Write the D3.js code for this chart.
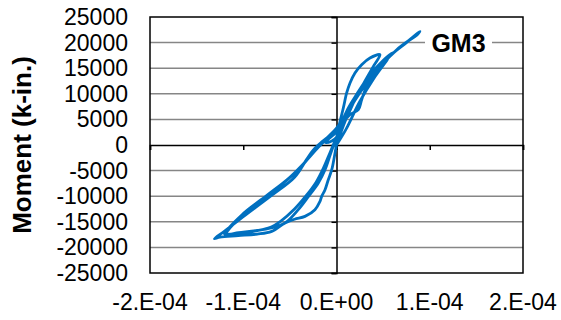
<!DOCTYPE html>
<html><head><meta charset="utf-8">
<script src="https://cdn.jsdelivr.net/npm/d3@7"></script>
<style>html,body{margin:0;padding:0;background:#fff;}svg{display:block;}</style>
</head><body>
<svg id="c" width="561" height="320"></svg>
<script>
// Curvature in units of 1e-4, moment in k-in.
const curvatureE4 = [
  0,0.1,0.2,0.05,-0.12,-0.05,0,
  0.03,0.073,0.109,0.145,0.198,0.270,0.359,0.466,
  0.40,0.30,0.20,0.10,0.0,-0.1,-0.25,-0.4,-0.6,-0.85,-1.05,-1.177,
  -1.05,-0.85,-0.7,-0.552,-0.41,-0.30,-0.195,-0.123,-0.06,0,0.07,0.18,0.3,0.45,0.6,0.75,0.895,
  0.85,0.788,0.646,0.502,0.395,0.324,0.270,0.234,0.15,0.05,-0.05,-0.15,-0.25,-0.32,-0.45,-0.7,-1.0,-1.2,-1.31,
  -1.25,-1.053,-0.85,-0.695,-0.552,-0.45,-0.338,-0.231,-0.177,-0.159,-0.123,-0.088,-0.051,-0.02,0.01,0.05,0.12,0.22,0.35,0.5,0.6,
  0.5,0.35,0.2,0.08,0,-0.15,-0.32,-0.5,-0.75,-1.0,-1.2,
  -1.1,-0.9,-0.7,-0.6,-0.45,-0.33,-0.22,-0.14,-0.07,0,0.08,0.2,0.32,0.45,0.55,
  0.4,0.25,0.1,0
];
const moment = [
  0,5000,9000,3500,500,800,1500,
  4000,7230,10160,12110,14060,15680,16990,17640,
  15500,12300,9000,5800,3300,1300,-1500,-4700,-7900,-11400,-14400,-17380,
  -17100,-16700,-16200,-15230,-12630,-10040,-7420,-4820,-1500,1500,5000,8850,12000,15000,17800,20000,22190,
  21300,20560,18610,16010,13400,11450,8850,6890,6000,4000,2200,700,-1000,-2800,-6300,-9900,-14000,-16800,-18300,
  -18000,-17710,-17400,-16870,-15230,-14500,-13940,-12630,-11010,-10040,-8730,-6780,-4830,-2000,1000,4000,7000,10000,13500,16500,18000,
  16000,13000,8800,5300,3300,500,-3000,-6300,-9900,-13400,-17400,
  -17300,-16900,-16000,-14900,-12500,-10000,-7300,-4500,-1500,1500,5000,8800,12000,14800,16800,
  13000,8500,3000,0
];
const xTicks = [-2e-4,-1e-4,0,1e-4,2e-4];
const xTickLabels = ["-2.E-04","-1.E-04","0.E+00","1.E-04","2.E-04"];
const yTicks = [-25000,-20000,-15000,-10000,-5000,0,5000,10000,15000,20000,25000];
const yTitle = "Moment (k-in.)";
const seriesLabel = "GM3";

const data = curvatureE4.map((c,i)=>({x:c*1e-4, y:moment[i]}));

const svg = d3.select("#c");
const L=150, R=523, T=17, B=273;
const x = d3.scaleLinear().domain([-2e-4,2e-4]).range([L,R]);
const y = d3.scaleLinear().domain([-25000,25000]).range([B,T]);

// gridlines
svg.append("g").selectAll("line").data(yTicks.filter(v=>v!==0 && Math.abs(v)!==25000)).join("line")
  .attr("x1",L).attr("x2",R).attr("y1",d=>y(d)).attr("y2",d=>y(d))
  .attr("stroke","#868686").attr("stroke-width",1.5);

// plot border
svg.append("rect").attr("x",L).attr("y",T).attr("width",R-L).attr("height",B-T)
  .attr("fill","none").attr("stroke","#000").attr("stroke-width",1.5);

// x axis through y=0
const xAxis = d3.axisBottom(x).tickValues(xTicks).tickSize(5).tickFormat("");
const gx = svg.append("g").attr("transform",`translate(0,${y(0)})`).call(xAxis);
gx.select(".domain").attr("stroke","#000").attr("stroke-width",1.5);
gx.selectAll(".tick line").attr("stroke","#000").attr("stroke-width",1.5);

// y axis through x=0
const yAxis = d3.axisLeft(y).tickValues(yTicks).tickSize(5).tickFormat("");
const gy = svg.append("g").attr("transform",`translate(${x(0)},0)`).call(yAxis);
gy.select(".domain").attr("stroke","#000").attr("stroke-width",1.5);
gy.selectAll(".tick line").attr("stroke","#000").attr("stroke-width",1.5);

// tick labels (low position)
svg.append("g").selectAll("text").data(yTicks).join("text")
  .attr("x",128).attr("y",d=>y(d)).attr("dy","0.35em")
  .attr("text-anchor","end").attr("font-family","'Liberation Sans',Arial,sans-serif")
  .attr("font-size",23).attr("fill","#000").text(d=>d);
svg.append("g").selectAll("text").data(xTicks).join("text")
  .attr("x",d=>x(d)).attr("y",310)
  .attr("text-anchor","middle").attr("font-family","'Liberation Sans',Arial,sans-serif")
  .attr("font-size",23).attr("fill","#000").text((d,i)=>xTickLabels[i]);

// y title
svg.append("text").attr("transform",`translate(31,${(T+B)/2}) rotate(-90)`)
  .attr("text-anchor","middle").attr("font-family","'Liberation Sans',Arial,sans-serif")
  .attr("font-size",26).attr("font-weight","bold").attr("fill","#000").text(yTitle);

// series
svg.append("path").datum(data)
  .attr("d", d3.line().x(d=>x(d.x)).y(d=>y(d.y)).curve(d3.curveCatmullRom.alpha(0.5)))
  .attr("fill","none").attr("stroke","#0070C0").attr("stroke-width",2.8)
  .attr("stroke-linejoin","round").attr("stroke-linecap","round");

// label
const lbl = svg.append("g");
lbl.append("rect").attr("x",425).attr("y",y(20000)-12).attr("width",67).attr("height",24).attr("fill","#fff");
lbl.append("text").attr("x",458.5).attr("y",51.5).attr("text-anchor","middle")
  .attr("font-family","'Liberation Sans',Arial,sans-serif").attr("font-size",25).attr("font-weight","bold")
  .attr("fill","#000").text(seriesLabel);
</script>
</body></html>
